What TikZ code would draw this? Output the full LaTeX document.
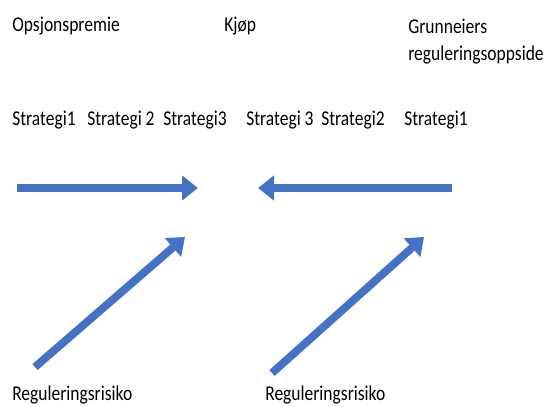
\documentclass[tikz,border=0pt]{standalone}
\usepackage{fontspec}
\setmainfont{Carlito}
\usetikzlibrary{arrows.meta}
\definecolor{OfficeBlue}{RGB}{68,114,196}

\begin{document}
\begin{tikzpicture}[
    x=0.02cm,
    y=-0.02cm,
    label/.style={
        anchor=west,
        inner sep=0pt,
        xscale=0.83,
        transform shape,
        font=\fontsize{12}{15.4}\selectfont,
        align=left
    },
    bigarrow/.style={
        draw=OfficeBlue,
        line width=4.5pt,
        -{Triangle[length=0.32cm,width=0.48cm]}
    }
]
\useasboundingbox (0,0) rectangle (543,406);

% top labels
\node[label] (premie) at (12,26) {Opsjonspremie};
\node[label] (kjop)   at (224,26) {Kjøp};
\node[label] (oppside) at (408,42) {Grunneiers\\reguleringsoppside};

% strategies
\node[label] (s1l) at (12,120)  {Strategi1};
\node[label] (s2l) at (87,120)  {Strategi 2};
\node[label] (s3l) at (163,120) {Strategi3};
\node[label] (s3r) at (246,120) {Strategi 3};
\node[label] (s2r) at (321,120) {Strategi2};
\node[label] (s1r) at (404,120) {Strategi1};

% horizontal arrows
\coordinate (lstart) at (17,188);
\coordinate (lend)   at (198,188);
\coordinate (rstart) at (452,188);
\coordinate (rend)   at (258,188);
\draw[bigarrow] (lstart) -- (lend);
\draw[bigarrow] (rstart) -- (rend);

% risk labels and arrows
\node[label] (risk1) at (12,395)  {Reguleringsrisiko};
\node[label] (risk2) at (265,395) {Reguleringsrisiko};
\coordinate (d1start) at (35,367);
\coordinate (d1end)   at (185,237);
\coordinate (d2start) at (272,373);
\coordinate (d2end)   at (424,237);
\draw[bigarrow] (d1start) -- (d1end);
\draw[bigarrow] (d2start) -- (d2end);

\end{tikzpicture}
\end{document}
